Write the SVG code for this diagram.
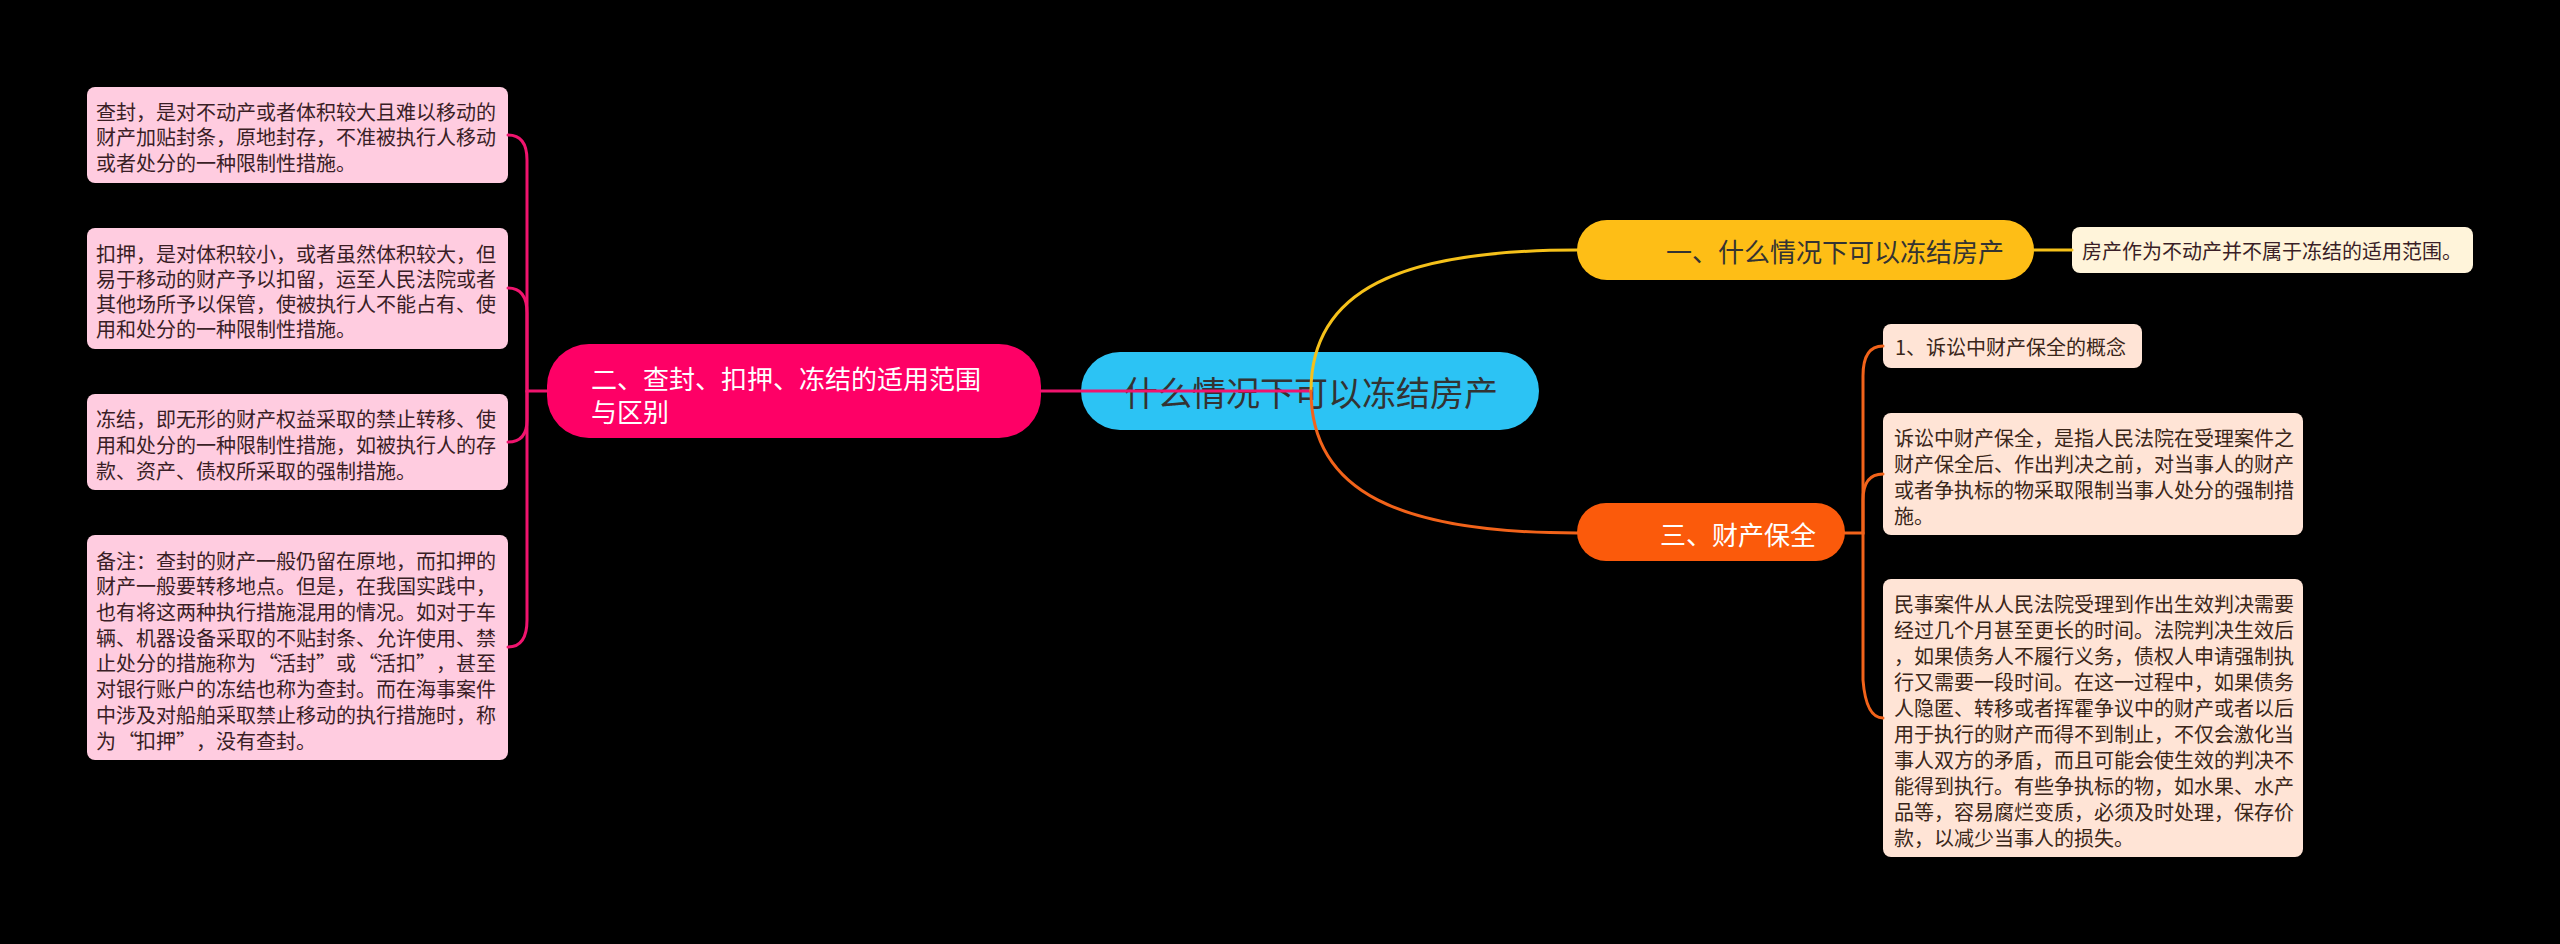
<svg xmlns="http://www.w3.org/2000/svg" width="2560" height="944" viewBox="0 0 2560 944">
<style>
text{font-family:"Noto Sans CJK SC","Noto Sans",sans-serif;dominant-baseline:central}
.leafP{fill:#FFCCE0}
.leafO{fill:#FFE4D6}
.leafY{fill:#FFF4DA}
.t20{font-size:20px;fill:#3a1e26}
.t20o{font-size:20px;fill:#3a2619}
.t26{font-size:26px}
.c{fill:none;stroke-width:3;stroke-linecap:round}
.pk{stroke:#F0146E}
.yl{stroke:#F5C11A}
.or{stroke:#F2631A}
</style>
<rect x="0" y="0" width="2560" height="944" fill="#000"/>

<g id="center">
<rect x="1081" y="352" width="458" height="78" rx="39" fill="#2CC3F4"/>
<text x="1311" y="391" font-size="34" fill="#333" text-anchor="middle">什么情况下可以冻结房产</text>
</g>

<g id="n1">
<rect x="1577" y="220" width="457" height="60" rx="30" fill="#FEBE16"/>
<text class="t26" x="2004" y="250" fill="#333" text-anchor="end">一、什么情况下可以冻结房产</text>
</g>
<g id="n1a">
<rect class="leafY" x="2072" y="227" width="401" height="46" rx="8"/>
<text class="t20" x="2082" y="250" fill="#333">房产作为不动产并不属于冻结的适用范围。</text>
</g>

<g id="n3">
<rect x="1577" y="503" width="268" height="58" rx="29" fill="#FB5A0B"/>
<text class="t26" x="1816" y="533" fill="#fff" text-anchor="end">三、财产保全</text>
</g>
<g id="n3a">
<rect class="leafO" x="1883" y="324" width="259" height="44" rx="8"/>
<text class="t20o" x="1895" y="346">1、诉讼中财产保全的概念</text>
</g>
<g id="n3b">
<rect class="leafO" x="1883" y="413" width="420" height="122" rx="8"/>
<text class="t20o" x="1894" y="437">诉讼中财产保全，是指人民法院在受理案件之</text>
<text class="t20o" x="1894" y="463">财产保全后、作出判决之前，对当事人的财产</text>
<text class="t20o" x="1894" y="489">或者争执标的物采取限制当事人处分的强制措</text>
<text class="t20o" x="1894" y="515">施。</text>
</g>
<g id="n3c">
<rect class="leafO" x="1883" y="579" width="420" height="278" rx="8"/>
<text class="t20o" x="1894" y="603">民事案件从人民法院受理到作出生效判决需要</text>
<text class="t20o" x="1894" y="629">经过几个月甚至更长的时间。法院判决生效后</text>
<text class="t20o" x="1894" y="655">，如果债务人不履行义务，债权人申请强制执</text>
<text class="t20o" x="1894" y="681">行又需要一段时间。在这一过程中，如果债务</text>
<text class="t20o" x="1894" y="707">人隐匿、转移或者挥霍争议中的财产或者以后</text>
<text class="t20o" x="1894" y="733">用于执行的财产而得不到制止，不仅会激化当</text>
<text class="t20o" x="1894" y="759">事人双方的矛盾，而且可能会使生效的判决不</text>
<text class="t20o" x="1894" y="785">能得到执行。有些争执标的物，如水果、水产</text>
<text class="t20o" x="1894" y="811">品等，容易腐烂变质，必须及时处理，保存价</text>
<text class="t20o" x="1894" y="837">款，以减少当事人的损失。</text>
</g>

<g id="n2">
<rect x="547" y="344" width="494" height="94" rx="42" fill="#FE0066"/>
<text class="t26" x="591" y="377" fill="#fff">二、查封、扣押、冻结的适用范围</text>
<text class="t26" x="591" y="410" fill="#fff">与区别</text>
</g>
<g id="n2a">
<rect class="leafP" x="87" y="87" width="421" height="96" rx="8"/>
<text class="t20" x="96" y="111">查封，是对不动产或者体积较大且难以移动的</text>
<text class="t20" x="96" y="136.5">财产加贴封条，原地封存，不准被执行人移动</text>
<text class="t20" x="96" y="162">或者处分的一种限制性措施。</text>
</g>
<g id="n2b">
<rect class="leafP" x="87" y="228" width="421" height="121" rx="8"/>
<text class="t20" x="96" y="253">扣押，是对体积较小，或者虽然体积较大，但</text>
<text class="t20" x="96" y="278">易于移动的财产予以扣留，运至人民法院或者</text>
<text class="t20" x="96" y="303">其他场所予以保管，使被执行人不能占有、使</text>
<text class="t20" x="96" y="328">用和处分的一种限制性措施。</text>
</g>
<g id="n2c">
<rect class="leafP" x="87" y="394" width="421" height="96" rx="8"/>
<text class="t20" x="96" y="418">冻结，即无形的财产权益采取的禁止转移、使</text>
<text class="t20" x="96" y="444">用和处分的一种限制性措施，如被执行人的存</text>
<text class="t20" x="96" y="470">款、资产、债权所采取的强制措施。</text>
</g>
<g id="n2d">
<rect class="leafP" x="87" y="535" width="421" height="225" rx="8"/>
<text class="t20" x="96" y="560">备注：查封的财产一般仍留在原地，而扣押的</text>
<text class="t20" x="96" y="585.7">财产一般要转移地点。但是，在我国实践中，</text>
<text class="t20" x="96" y="611.4">也有将这两种执行措施混用的情况。如对于车</text>
<text class="t20" x="96" y="637.1">辆、机器设备采取的不贴封条、允许使用、禁</text>
<text class="t20" x="96 116 136 156 176 196 216 236 258 276 296 316 336 358 376 396 416 436 456 476" y="662.8">止处分的措施称为“活封”或“活扣”，甚至</text>
<text class="t20" x="96" y="688.5">对银行账户的冻结也称为查封。而在海事案件</text>
<text class="t20" x="96" y="714.2">中涉及对船舶采取禁止移动的执行措施时，称</text>
<text class="t20" x="96 118 136 156 176 196 216 236 256 276 296" y="740">为“扣押”，没有查封。</text>
</g>

<g id="connectors">
<path class="c pk" d="M1310,391 L1041,391" stroke-width="4"/>
<path class="c pk" d="M547,391 L527,391 L527,160 Q527,135 508,135"/>
<path class="c pk" d="M527,391 L527,313 Q527,288 508,288"/>
<path class="c pk" d="M527,391 L527,420 Q527,442 508,442"/>
<path class="c pk" d="M527,391 L527,620 Q527,647 508,647"/>
<path class="c yl" d="M1311,391 C1311,290 1400,250 1577,250"/>
<path class="c yl" d="M2034,250 L2072,250"/>
<path class="c or" d="M1311,391 C1311,492 1400,533 1577,533"/>
<path class="c or" d="M1845,533 L1863,533 L1863,376 Q1863,346 1883,346"/>
<path class="c or" d="M1863,533 L1863,500 Q1863,474 1883,474"/>
<path class="c or" d="M1863,533 L1863,680 Q1866,718 1883,718"/>
</g>
</svg>
